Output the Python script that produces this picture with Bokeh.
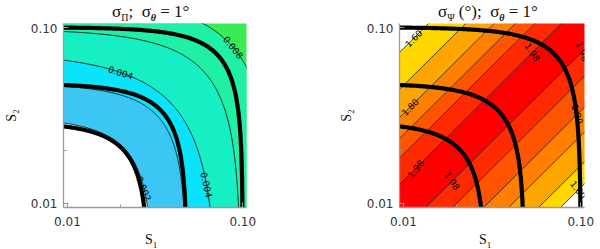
import numpy as np
from bokeh.plotting import figure
from bokeh.layouts import row, column
from bokeh.models import Range1d, FixedTicker, Div
from bokeh.core.properties import value
from bokeh.embed import file_html
from bokeh.resources import INLINE

# ---------------- data ----------------
S_range = [0.0095, 0.105]
tick_values = [0.01, 0.1]
tick_labels = ["0.01", "0.10"]
minor_tick_values = [0.02]

# thick lines: circles of constant polarisation degree sqrt(S1^2 + S2^2)
pi_circles = [0.029, 0.048, 0.100]

# left panel: sigma_Pi contours
sigma_pi_levels = [0.002, 0.003, 0.004, 0.006, 0.008]
sigma_pi_axis_S = [0.031, 0.048, 0.073, 0.098, 0.155]    # where a contour meets an axis
sigma_pi_diag_S = [0.0208, 0.032, 0.038, 0.058, 0.0825]  # where it crosses S1 = S2
sigma_pi_colors = ["#ffffff", "#3cc6f4", "#0ae4fa", "#16efc4", "#20f0a6", "#3aeb55"]

# right panel: sigma_Psi band boundaries as log10(S2/S1)
sigma_psi_bounds = [-0.908, -0.784, -0.615, -0.474, -0.299, -0.147,
                    0.13, 0.28, 0.39, 0.51, 0.67, 0.88]
sigma_psi_colors = ["#ffffff", "#ffd800", "#ffa500", "#ff8000", "#ff5500", "#ff2a00",
                    "#ff0000",
                    "#ff2a00", "#ff5500", "#ff8000", "#ffa500", "#ffd800", "#ffffff"]

# contour labels: (text, level index, polar angle deg, text angle rad)
pi_labels = [("0.004", 2, 70.0, -0.30), ("0.008", 4, 41.0, -0.90),
             ("0.004", 2, 11.6, -1.35), ("0.002", 0, 24.0, -1.20)]
# (text, boundary log10(S2/S1), S1 position, text angle rad)
psi_labels = [("1.60", 0.88, 0.0114, 0.785), ("1.80", 0.51, 0.0109, 0.785),
              ("1.98", 0.13, 0.0117, 0.90), ("1.98", -0.147, 0.0189, -1.0),
              ("1.98", 0.13, 0.0534, -1.0), ("1.98", -0.147, 0.1023, -1.2),
              ("1.80", -0.474, 0.0958, -1.3), ("1.60", -0.908, 0.097, -0.9)]

SERIF = "Liberation Serif"
SANS = "DejaVu Sans"


def superellipse(a, s, npts=240):
    n = np.log(2.0) / np.log(a / s)
    phi = np.linspace(np.radians(0.2), np.radians(89.8), npts)
    r = a / (np.cos(phi) ** n + np.sin(phi) ** n) ** (1.0 / n)
    return r * np.cos(phi), r * np.sin(phi)


def point_on(a, s, phi_deg):
    n = np.log(2.0) / np.log(a / s)
    phi = np.radians(phi_deg)
    r = a / (np.cos(phi) ** n + np.sin(phi) ** n) ** (1.0 / n)
    return r * np.cos(phi), r * np.sin(phi)


def make_fig(width, bl, br, ylab_standoff):
    p = figure(width=width, height=209, x_axis_type="log", y_axis_type="log",
               x_range=Range1d(*S_range), y_range=Range1d(*S_range),
               output_backend="svg", toolbar_location=None,
               min_border_left=bl, min_border_right=br,
               min_border_top=0, min_border_bottom=25)
    p.grid.visible = False
    p.outline_line_color = None
    for ax in (p.xaxis[0], p.yaxis[0]):
        ax.ticker = FixedTicker(ticks=tick_values, minor_ticks=minor_tick_values)
        ax.major_label_overrides = dict(zip(tick_values, tick_labels))
        ax.major_tick_in = 5
        ax.major_tick_out = 0
        ax.minor_tick_in = 3
        ax.minor_tick_out = 0
        ax.axis_line_color = "#9a9a9a"
        ax.axis_line_width = 1.3
        ax.major_tick_line_color = "#9a9a9a"
        ax.minor_tick_line_color = "#9a9a9a"
        ax.major_label_text_font = SANS
        ax.major_label_text_font_size = "12px"
        ax.major_label_text_color = "#333333"
    p.xaxis[0].major_label_standoff = 9
    p.yaxis[0].major_label_standoff = 6
    p.yaxis[0].axis_label = "S\u2082"
    p.yaxis[0].axis_label_text_font = SERIF
    p.yaxis[0].axis_label_text_font_size = "14px"
    p.yaxis[0].axis_label_text_font_style = "normal"
    p.yaxis[0].axis_label_text_color = "#111111"
    p.yaxis[0].axis_label_standoff = ylab_standoff
    return p


def title_div(width, pad, html):
    return Div(width=width, height=23, margin=0,
               text=(f'<div style="padding-left:{pad}px;font-family:\'{SERIF}\';'
                     f'font-size:17px;line-height:23px;white-space:nowrap;color:#111">'
                     f'{html}</div>'))


def xlabel_div(width, pad):
    return Div(width=width, height=17, margin=0,
               text=(f'<div style="padding-left:{pad}px;font-family:\'{SERIF}\';'
                     f'font-size:14px;line-height:8px;white-space:nowrap;color:#111">'
                     f'S<sub style="font-size:9px;line-height:0">1</sub></div>'))


SUB = '<sub style="font-size:10px;line-height:0">'
SUBB = '<sub style="font-size:10px;line-height:0;font-weight:bold;font-style:italic">'

circle_xs, circle_ys = [], []
for P in pi_circles:
    cx, cy = superellipse(P, P / np.sqrt(2.0))
    circle_xs.append(list(cx))
    circle_ys.append(list(cy))

# ---------------- left panel ----------------
p1 = make_fig(300, 60, 54, 9)
p1.background_fill_color = sigma_pi_colors[-1]
xs, ys, cols = [], [], []
lx, ly = [], []
for i in range(len(sigma_pi_levels) - 1, -1, -1):
    cx, cy = superellipse(sigma_pi_axis_S[i], sigma_pi_diag_S[i])
    xs.append(list(cx) + [1e-5])
    ys.append(list(cy) + [1e-5])
    cols.append(sigma_pi_colors[i])
    lx.append(list(cx))
    ly.append(list(cy))
p1.patches(xs, ys, fill_color=cols, line_color=None)
p1.multi_line(lx, ly, line_color="black", line_width=0.8)
tx, ty, tt, ta = [], [], [], []
for t, k, ph, ang in pi_labels:
    px, py = point_on(sigma_pi_axis_S[k], sigma_pi_diag_S[k], ph)
    tx.append(px); ty.append(py); tt.append(t); ta.append(ang)
p1.text(x=tx, y=ty, text=tt, angle=ta, text_font=value(SANS), text_font_size="9px",
        text_align="center", text_baseline="middle", text_color="black")
p1.multi_line(circle_xs, circle_ys, line_color="black", line_width=4.2)

t1 = title_div(300, 112, f'\u03c3{SUB}\u03a0</sub>; &nbsp;\u03c3{SUBB}\u03b8</sub> = 1\u00b0')
x1 = xlabel_div(300, 145)

# ---------------- right panel ----------------
p2 = make_fig(300, 99, 16, 10)
bxs, bys = [], []
edges = [-4.0] + sigma_psi_bounds + [4.0]
for k in range(len(sigma_psi_colors)):
    lo, hi = edges[k], edges[k + 1]
    bxs.append([1e-4, 10.0, 10.0, 1e-4])
    bys.append([1e-4 * 10 ** lo, 10.0 * 10 ** lo, 10.0 * 10 ** hi, 1e-4 * 10 ** hi])
p2.patches(bxs, bys, fill_color=sigma_psi_colors, line_color=None)
llx = [[1e-4, 10.0] for d in sigma_psi_bounds]
lly = [[1e-4 * 10 ** d, 10.0 * 10 ** d] for d in sigma_psi_bounds]
p2.multi_line(llx, lly, line_color="black", line_width=0.7)
rx = [s for (_, d, s, _) in psi_labels]
ry = [s * 10 ** d for (_, d, s, _) in psi_labels]
p2.text(x=rx, y=ry, text=[t for (t, _, _, _) in psi_labels],
        angle=[a for (_, _, _, a) in psi_labels], text_font=value(SANS),
        text_font_size="9px", text_align="center", text_baseline="middle", text_color="black")
p2.multi_line(circle_xs, circle_ys, line_color="black", line_width=4.2)

t2 = title_div(300, 138, f'\u03c3{SUB}\u03a8</sub> (\u00b0); &nbsp;\u03c3{SUBB}\u03b8</sub> = 1\u00b0')
x2 = xlabel_div(300, 179)

layout = row(column(t1, p1, x1), column(t2, p2, x2))
open("out.html", "w").write(file_html(layout, INLINE))
